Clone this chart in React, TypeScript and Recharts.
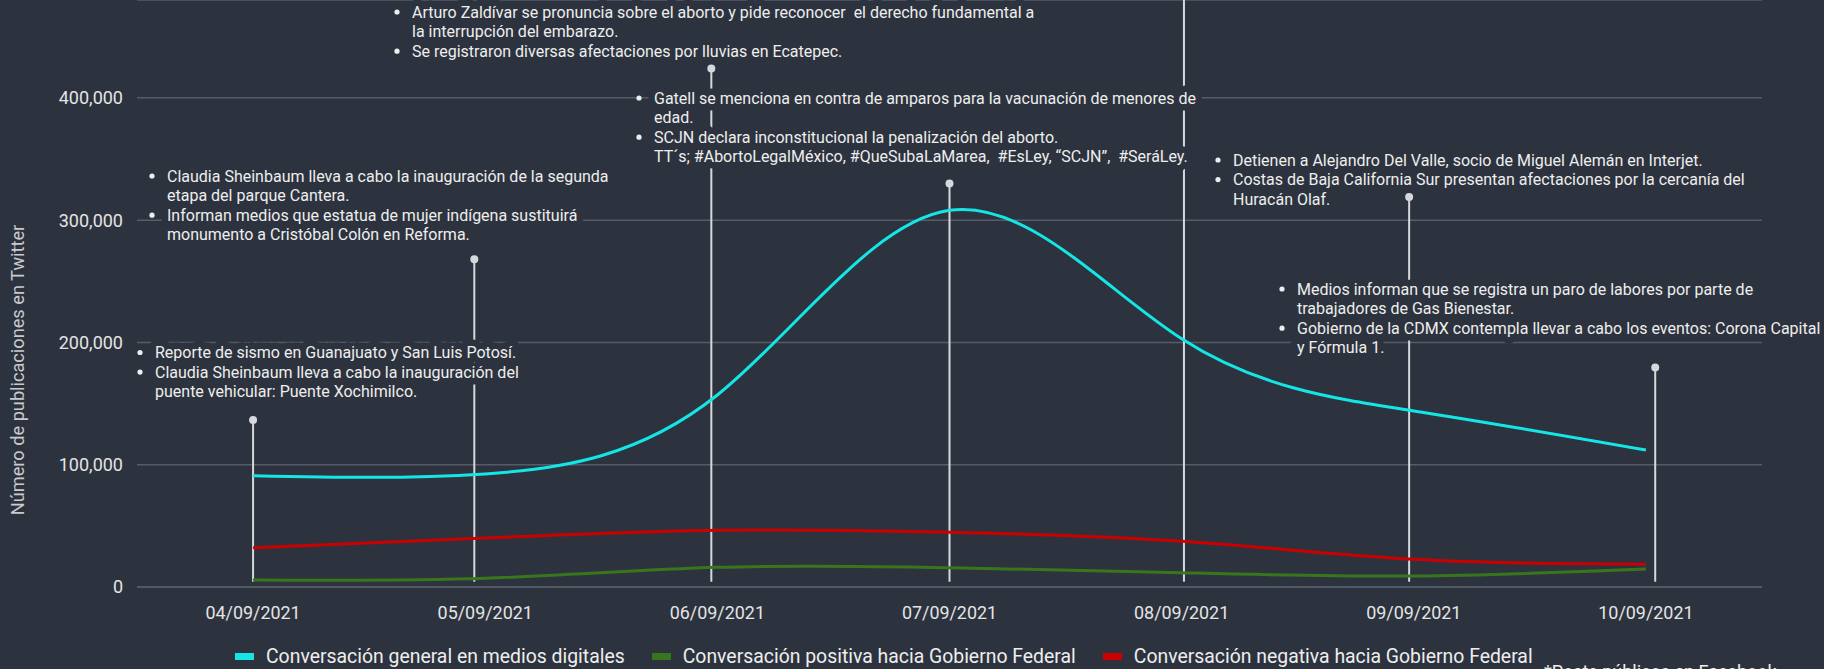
import { CartesianGrid, Line, LineChart, ReferenceDot, ReferenceLine, XAxis, YAxis } from 'recharts';

const dates = ['04/09/2021', '05/09/2021', '06/09/2021', '07/09/2021', '08/09/2021', '09/09/2021', '10/09/2021'];
const general = [91000, 92500, 157000, 308000, 203000, 144000, 112000];
const positive = [5700, 7100, 16100, 15800, 11700, 9000, 14700];
const negative = [32000, 40000, 46400, 44700, 37400, 22700, 18600];

// pins de eventos: posición (en días, índice) y altura
const pinX = [0, 0.953, 1.974, 3, 4.01, 4.98, 6.04];
const pinTops = [136600, 268000, 424000, 330000, 480000, 319000, 179500];
const pinBase = 4300;

const yTicks = [0, 100000, 200000, 300000, 400000];
const yMax = 480000;
const xTicks = [0, 1, 2, 3, 4, 5, 6];

const seriesNames = [
  'Conversación general en medios digitales',
  'Conversación positiva hacia Gobierno Federal',
  'Conversación negativa hacia Gobierno Federal',
];
const seriesColors = ['#14e6e6', '#38761d', '#cc0000'];

const notesA = [
  ['Arturo Zaldívar se pronuncia sobre el aborto y pide reconocer  el derecho fundamental a', 'la interrupción del embarazo.'],
  ['Se registraron diversas afectaciones por lluvias en Ecatepec.'],
];
const notesB = [
  ['Gatell se menciona en contra de amparos para la vacunación de menores de', 'edad.'],
  ['SCJN declara inconstitucional la penalización del aborto.', 'TT´s; #AbortoLegalMéxico, #QueSubaLaMarea,  #EsLey, “SCJN”,  #SeráLey.'],
];
const notesC = [
  ['Claudia Sheinbaum lleva a cabo la inauguración de la segunda', 'etapa del parque Cantera.'],
  ['Informan medios que estatua de mujer indígena sustituirá', 'monumento a Cristóbal Colón en Reforma.'],
];
const notesD = [
  ['Reporte de sismo en Guanajuato y San Luis Potosí.'],
  ['Claudia Sheinbaum lleva a cabo la inauguración del', 'puente vehicular: Puente Xochimilco.'],
];
const notesE = [
  ['Detienen a Alejandro Del Valle, socio de Miguel Alemán en Interjet.'],
  ['Costas de Baja California Sur presentan afectaciones por la cercanía del', 'Huracán Olaf.'],
];
const notesF = [
  ['Medios informan que se registra un paro de labores por parte de', 'trabajadores de Gas Bienestar.'],
  ['Gobierno de la CDMX contempla llevar a cabo los eventos: Corona Capital', 'y Fórmula 1.'],
];

const BG = '#2d333e';
const GRID = '#555c68';
const TEXT = '#eeeeee';
const PIN = '#d6d8dc';

const W = 1824;
const H = 669;
const LINE_STEP = 19.6;

// posición del texto (x del texto, y del centro de la primera línea)
const noteBlocks = [
  { notes: notesA, x: 412, y: 12 },
  { notes: notesB, x: 654, y: 98 },
  { notes: notesC, x: 167, y: 176 },
  { notes: notesD, x: 155, y: 352.5 },
  { notes: notesE, x: 1233, y: 160 },
  { notes: notesF, x: 1297, y: 289 },
];

const data = dates.map((d, i) => ({
  idx: i,
  general: general[i],
  positive: positive[i],
  negative: negative[i],
}));

function layoutLines() {
  const out: { x: number; y: number; text: string; bullet: boolean }[] = [];
  noteBlocks.forEach((b) => {
    let row = 0;
    b.notes.forEach((item) => {
      item.forEach((t, j) => {
        out.push({ x: b.x, y: b.y + row * LINE_STEP, text: t, bullet: j === 0 });
        row++;
      });
    });
  });
  return out;
}

function Notes() {
  const lines = layoutLines();
  const font = { fontFamily: 'Roboto, sans-serif', fontSize: 16, whiteSpace: 'pre' as const };
  return (
    <svg width={W} height={H} style={{ position: 'absolute', left: 0, top: 0, pointerEvents: 'none' }}>
      {lines.map((l, i) => (
        <text key={'h' + i} x={l.x} y={l.y} dominantBaseline="central" style={font}
          fill={BG} stroke={BG} strokeWidth={13} strokeLinejoin="round">
          {l.text}
        </text>
      ))}
      {lines.map((l, i) => (
        <g key={'t' + i}>
          {l.bullet && <circle cx={l.x - 15} cy={l.y} r={2.6} fill={TEXT} />}
          <text x={l.x} y={l.y} dominantBaseline="central" style={font} fill={TEXT}>
            {l.text}
          </text>
        </g>
      ))}
      <text x={17} y={370} transform="rotate(-90 17 370)" textAnchor="middle" dominantBaseline="central"
        fontFamily="Roboto, sans-serif" fontSize={18.2} fill="#c8cacf">
        Número de publicaciones en Twitter
      </text>
      <text x={1544} y={678} fontFamily="Roboto, sans-serif" fontSize={18} fill={TEXT}>
        *Posts públicos en Facebook
      </text>
    </svg>
  );
}

export default function App() {
  return (
    <div style={{ position: 'absolute', left: 0, top: 0, width: W, height: H, background: BG, overflow: 'hidden', fontFamily: 'Roboto, sans-serif' }}>
      <LineChart width={W} height={H} data={data} margin={{ top: 0, right: 62, bottom: 0, left: 0 }}>
        <CartesianGrid vertical={false} stroke={GRID} strokeWidth={1.5} />
        <XAxis
          dataKey="idx"
          type="number"
          domain={[-0.5, 6.5]}
          ticks={xTicks}
          tickFormatter={(v: number) => dates[v] ?? ''}
          height={82}
          tickLine={false}
          tickSize={0}
          tickMargin={19}
          axisLine={{ stroke: GRID, strokeWidth: 1.5 }}
          tick={{ fill: '#e4e4e4', fontSize: 17.9, fontFamily: 'Roboto, sans-serif' }}
        />
        <YAxis
          width={137}
          domain={[0, yMax]}
          ticks={yTicks}
          allowDataOverflow
          axisLine={false}
          tickLine={false}
          tickSize={0}
          tickMargin={14}
          tickFormatter={(v: number) => v.toLocaleString('en-US')}
          tick={{ fill: '#e4e4e4', fontSize: 18, fontFamily: 'Roboto, sans-serif' }}
        />
        {pinX.map((px, i) => (
          <ReferenceLine
            key={'pin' + i}
            segment={[{ x: px, y: pinBase }, { x: px, y: pinTops[i] }]}
            stroke={PIN}
            strokeWidth={2}
            ifOverflow="visible"
          />
        ))}
        {pinX.map((px, i) =>
          pinTops[i] < yMax ? (
            <ReferenceDot key={'dot' + i} x={px} y={pinTops[i]} r={4} fill={PIN} stroke="none" ifOverflow="visible" />
          ) : null
        )}
        <Line type="natural" dataKey="negative" name={seriesNames[2]} stroke={seriesColors[2]} strokeWidth={3} dot={false} isAnimationActive={false} />
        <Line type="natural" dataKey="positive" name={seriesNames[1]} stroke={seriesColors[1]} strokeWidth={3} dot={false} isAnimationActive={false} />
        <Line type="natural" dataKey="general" name={seriesNames[0]} stroke={seriesColors[0]} strokeWidth={3} dot={false} isAnimationActive={false} />
      </LineChart>
      <Notes />
      <div style={{ position: 'absolute', left: 235, top: 645, display: 'flex', alignItems: 'center', fontSize: 19.4, color: TEXT, whiteSpace: 'nowrap' }}>
        {seriesNames.map((n, i) => (
          <div key={n} style={{ display: 'flex', alignItems: 'center', marginRight: 27 }}>
            <span style={{ display: 'inline-block', width: 19, height: 7, background: seriesColors[i], marginRight: 12 }} />
            <span>{n}</span>
          </div>
        ))}
      </div>
    </div>
  );
}
